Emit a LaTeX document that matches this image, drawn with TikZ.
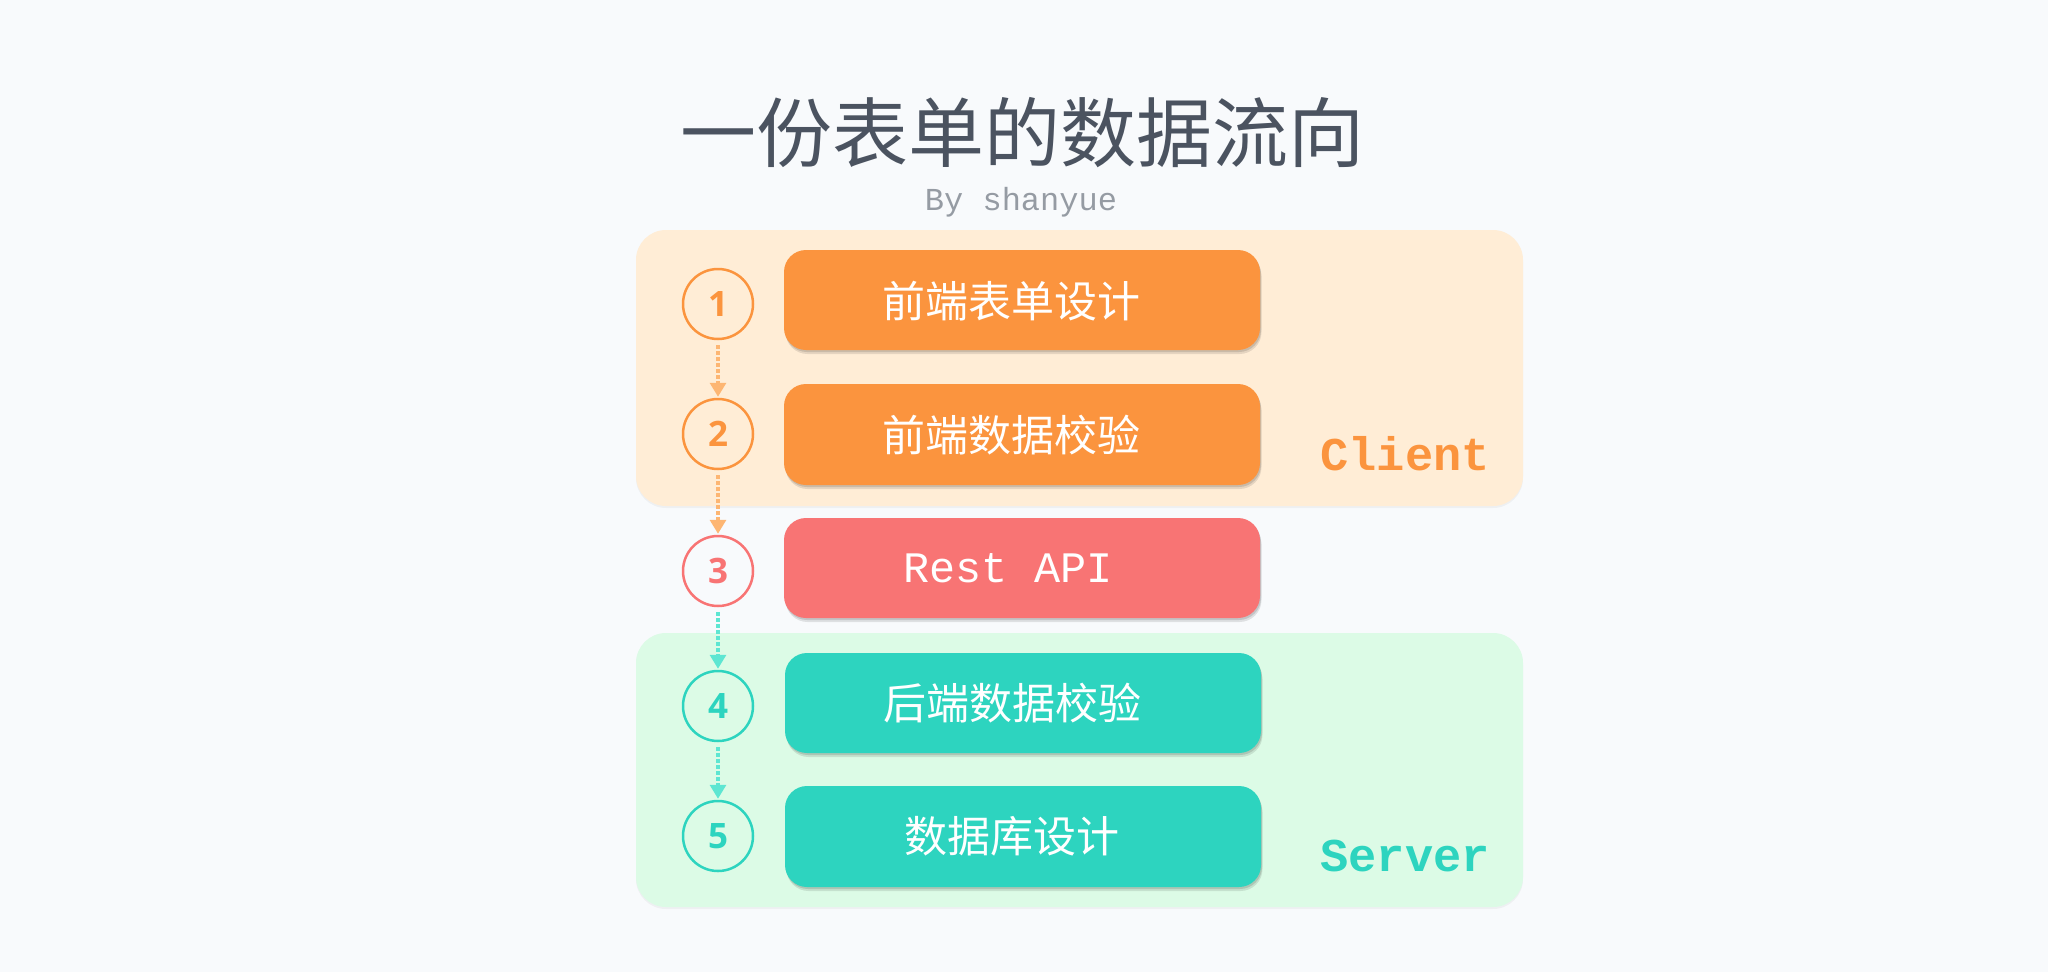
\documentclass[tikz,border=0pt]{standalone}
\usepackage{fontspec}
\newfontfamily\cjk{Noto Sans CJK SC}
\newfontfamily\mono{Liberation Mono}
\newfontfamily\numfont{Open Sans}
\usetikzlibrary{arrows.meta,shadows}
\definecolor{bgc}{HTML}{F8FAFC}
\definecolor{clientbg}{HTML}{FFEDD6}
\definecolor{serverbg}{HTML}{DCFBE6}
\definecolor{orangec}{HTML}{FB943E}
\definecolor{redc}{HTML}{F87474}
\definecolor{tealc}{HTML}{2DD4BF}
\definecolor{orangearr}{HTML}{FDB673}
\definecolor{tealarr}{HTML}{5EE6D2}
\definecolor{titlec}{HTML}{4B5360}
\definecolor{subc}{HTML}{959BA3}
\tikzset{
  container/.style={rounded corners=30pt, minimum width=887pt, inner sep=0pt,
    drop shadow={shadow xshift=0pt,shadow yshift=-2pt,opacity=0.04,fill=black}},
  stepbox/.style={rounded corners=22pt, minimum width=476pt, minimum height=100pt, inner sep=0pt,
    drop shadow={shadow xshift=1.5pt,shadow yshift=-4pt,opacity=0.10,fill=black},
    drop shadow={shadow xshift=1pt,shadow yshift=-2pt,opacity=0.12,fill=black}},
  boxtext/.style={text=white, font=\cjk\fontsize{43}{50}\selectfont, inner sep=0pt},
  numc/.style={circle, draw, line width=2.5pt, minimum size=70pt, inner sep=0pt,
    font=\numfont\bfseries\fontsize{35}{38}\selectfont},
  arr/.style={line width=3.2pt, dash pattern=on 3.5pt off 2.5pt,
    -{Triangle[width=16pt,length=14pt]}, shorten <=5pt, shorten >=1pt},
  sidelabel/.style={font=\mono\bfseries\fontsize{47}{50}\selectfont, anchor=base east, inner sep=0pt}
}
\begin{document}
\begin{tikzpicture}[x=1pt,y=-1pt]
\useasboundingbox (0,0) rectangle (2048,972);
\fill[bgc] (0,0) rectangle (2048,972);
% title
\node[text=titlec, font=\cjk\fontsize{76}{80}\selectfont, inner sep=0pt] (title) at (1022,133) {一份表单的数据流向};
\node[text=subc, font=\mono\fontsize{32}{36}\selectfont, anchor=base, inner sep=0pt] (sub) at (1021,210) {By shanyue};
% containers
\node[container, fill=clientbg, minimum height=276pt] (client) at (1079.5,368) {};
\node[container, fill=serverbg, minimum height=274pt] (server) at (1079.5,770) {};
\node[sidelabel, text=orangec] (clientlabel) at (1490,470) {Client};
\node[sidelabel, text=tealc] (serverlabel) at (1490,871) {Server};
% step boxes
\node[stepbox, fill=orangec] (b1) at (1022,300) {};
\node[stepbox, fill=orangec, minimum height=101pt] (b2) at (1022,434.5) {};
\node[stepbox, fill=redc] (b3) at (1022,568) {};
\node[stepbox, fill=tealc] (b4) at (1023,703) {};
\node[stepbox, fill=tealc, minimum height=101pt] (b5) at (1023,836.5) {};
\node[boxtext] (t1) at (1011,301) {前端表单设计};
\node[boxtext] (t2) at (1011,435) {前端数据校验};
\node[text=white, font=\mono\fontsize{43.5}{48}\selectfont, inner sep=0pt] (t3) at (1008,568) {Rest API};
\node[boxtext] (t4) at (1012,703) {后端数据校验};
\node[boxtext] (t5) at (1012,836) {数据库设计};
% numbered circles
\node[numc, draw=orangec, text=orangec] (c1) at (718,304) {1};
\node[numc, draw=orangec, text=orangec] (c2) at (718,434) {2};
\node[numc, draw=redc, text=redc] (c3) at (718,571) {3};
\node[numc, draw=tealc, text=tealc] (c4) at (718,706) {4};
\node[numc, draw=tealc, text=tealc] (c5) at (718,836) {5};
% connectors
\draw[arr, orangearr] (c1) -- (c2);
\draw[arr, orangearr] (c2) -- (c3);
\draw[arr, tealarr] (c3) -- (c4);
\draw[arr, tealarr] (c4) -- (c5);
\end{tikzpicture}
\end{document}
